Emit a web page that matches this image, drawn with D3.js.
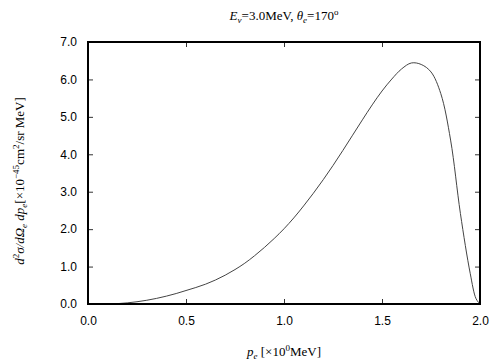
<!DOCTYPE html>
<html>
<head>
<meta charset="utf-8">
<script src="https://cdn.jsdelivr.net/npm/d3@7"></script>
<style>
  body { margin: 0; background: #fff; }
  svg { display: block; }
  .tick text { font-family: "Liberation Sans", Arial, sans-serif; font-size: 12px; fill: #000; }
  .serif { font-family: "Liberation Serif", "Times New Roman", serif; fill: #000; }
</style>
</head>
<body>
<div id="chart"></div>
<script>
// electron momentum p_e [MeV]
const pe = [0.10, 0.15, 0.20, 0.25, 0.30, 0.35, 0.40, 0.45, 0.50, 0.55, 0.60, 0.65, 0.70, 0.75,
            0.80, 0.85, 0.90, 0.95, 1.00, 1.05, 1.10, 1.15, 1.20, 1.25, 1.30, 1.35, 1.40, 1.45,
            1.50, 1.55, 1.60, 1.65, 1.70, 1.75, 1.80, 1.85, 1.90, 1.95, 1.98, 2.00];
// d2sigma / dOmega dp_e [1e-45 cm2/sr MeV]
const xsec = [0.00, 0.01, 0.03, 0.06, 0.10, 0.15, 0.21, 0.28, 0.36, 0.44, 0.53, 0.64, 0.77, 0.92,
              1.09, 1.29, 1.51, 1.75, 2.01, 2.30, 2.62, 2.96, 3.32, 3.70, 4.10, 4.51, 4.92, 5.32,
              5.69, 6.01, 6.28, 6.44, 6.40, 6.20, 5.62, 4.38, 2.42, 0.82, 0.14, 0.00];
const xTicks = [0.0, 0.5, 1.0, 1.5, 2.0];
const yTicks = [0, 1, 2, 3, 4, 5, 6, 7];

const W = 504, H = 360;
const margin = { top: 42, right: 24, bottom: 56, left: 88 };
const width = W - margin.left - margin.right,
      height = H - margin.top - margin.bottom;

const svg = d3.select("#chart").append("svg")
    .attr("width", W).attr("height", H);
const g = svg.append("g")
    .attr("transform", "translate(" + margin.left + "," + margin.top + ")");

const x = d3.scaleLinear().domain([0, 2]).range([0, width]);
const y = d3.scaleLinear().domain([0, 7]).range([height, 0]);

// axes with inward ticks on all four sides
const fmt = d3.format(".1f");
g.append("g").attr("transform", "translate(0," + height + ")")
    .call(d3.axisBottom(x).tickValues(xTicks).tickSize(-5).tickPadding(12).tickFormat(fmt));
g.append("g")
    .call(d3.axisLeft(y).tickValues(yTicks).tickSize(-5).tickPadding(11).tickFormat(fmt));
g.append("g")
    .call(d3.axisTop(x).tickValues(xTicks).tickSize(-5).tickFormat(""));
g.append("g").attr("transform", "translate(" + width + ",0)")
    .call(d3.axisRight(y).tickValues(yTicks).tickSize(-5).tickFormat(""));
g.selectAll(".domain").remove();
g.selectAll(".tick line").attr("stroke", "#333");

// the curve
const line = d3.line()
    .x((d, i) => x(pe[i]))
    .y(d => y(d))
    .curve(d3.curveCatmullRom.alpha(0.5));
g.append("path")
    .datum(xsec)
    .attr("d", line)
    .attr("fill", "none")
    .attr("stroke", "#444")
    .attr("stroke-width", 1);

// frame
g.append("rect")
    .attr("width", width).attr("height", height)
    .attr("fill", "none").attr("stroke", "#000").attr("stroke-width", 2);

// title
const title = svg.append("text").attr("class", "serif")
    .attr("x", margin.left + width / 2).attr("y", 20)
    .attr("text-anchor", "middle").attr("font-size", 13);
title.append("tspan").attr("font-style", "italic").text("E");
title.append("tspan").attr("font-style", "italic").attr("font-size", 9).attr("dy", 3).text("ν");
title.append("tspan").attr("dy", -3).text("=3.0MeV, ");
title.append("tspan").attr("font-style", "italic").text("θ");
title.append("tspan").attr("font-style", "italic").attr("font-size", 9).attr("dy", 3).text("e");
title.append("tspan").attr("dy", -3).text("=170");
title.append("tspan").attr("font-size", 9).attr("dy", -5).text("o");

// x label
const xl = svg.append("text").attr("class", "serif")
    .attr("x", margin.left + width / 2).attr("y", 356)
    .attr("text-anchor", "middle").attr("font-size", 13);
xl.append("tspan").attr("font-style", "italic").text("p");
xl.append("tspan").attr("font-style", "italic").attr("font-size", 9).attr("dy", 3).text("e");
xl.append("tspan").attr("dy", -3).text(" [×10");
xl.append("tspan").attr("font-size", 9).attr("dy", -5).text("0");
xl.append("tspan").attr("dy", 5).text("MeV]");

// y label
const yl = svg.append("text").attr("class", "serif")
    .attr("transform", "translate(24," + (margin.top + height / 2 + 8) + ") rotate(-90)")
    .attr("text-anchor", "middle").attr("font-size", 13);
yl.append("tspan").attr("font-style", "italic").text("d");
yl.append("tspan").attr("font-size", 9).attr("dy", -5).text("2");
yl.append("tspan").attr("font-style", "italic").attr("dy", 5).text("σ/dΩ");
yl.append("tspan").attr("font-style", "italic").attr("font-size", 9).attr("dy", 3).text("e");
yl.append("tspan").attr("font-style", "italic").attr("dy", -3).text(" dp");
yl.append("tspan").attr("font-style", "italic").attr("font-size", 9).attr("dy", 3).text("e");
yl.append("tspan").attr("dy", -3).text("[×10");
yl.append("tspan").attr("font-size", 9).attr("dy", -5).text("−45");
yl.append("tspan").attr("dy", 5).text("cm");
yl.append("tspan").attr("font-size", 9).attr("dy", -5).text("2");
yl.append("tspan").attr("dy", 5).text("/sr MeV]");
</script>
</body>
</html>
